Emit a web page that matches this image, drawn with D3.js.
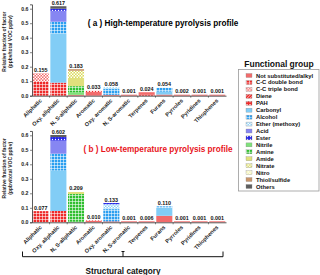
<!DOCTYPE html>
<html>
<head>
<meta charset="utf-8">
<script src="https://cdn.jsdelivr.net/npm/d3@7/dist/d3.min.js"></script>
<style>
  body { margin: 0; background: #fff; }
  text { font-family: "Liberation Sans", Arial, sans-serif; font-weight: bold; }
</style>
</head>
<body>
<div class="chart"></div>
<script>
var categories = ["Aliphatic", "Oxy. aliphatic", "N, S-aliphatic", "Aromatic", "Oxy. aromatic",
  "N, S-aromatic", "Terpenes", "Furans", "Pyrroles", "Pyridines", "Thiophenes"];

var groups = ["Not substituted/alkyl", "C-C double bond", "C-C triple bond", "Diene", "PAH",
  "Carbonyl", "Alcohol", "Ether (methoxy)", "Acid", "Ester", "Nitrile", "Amine", "Amide",
  "Nitrate", "Nitro", "Thiol/sulfide", "Others"];

var yTicks = [0, 0.1, 0.2, 0.3, 0.4, 0.5, 0.6];

// stacked segments per category, bottom to top
var highStacks = [
  [["C-C double bond", 0.098], ["C-C triple bond", 0.057]],
  [["C-C double bond", 0.09], ["Carbonyl", 0.34], ["Alcohol", 0.08], ["Acid", 0.075], ["Ester", 0.015], ["Others", 0.017]],
  [["Not substituted/alkyl", 0.006], ["Nitrile", 0.018], ["Amine", 0.042], ["Amide", 0.056], ["Nitrate", 0.05], ["Thiol/sulfide", 0.011]],
  [["Not substituted/alkyl", 0.022], ["PAH", 0.011]],
  [["Not substituted/alkyl", 0.006], ["Alcohol", 0.04], ["Ether (methoxy)", 0.012]],
  [["Not substituted/alkyl", 0.001]],
  [["C-C double bond", 0.006], ["Not substituted/alkyl", 0.018]],
  [["Not substituted/alkyl", 0.008], ["Carbonyl", 0.02], ["Alcohol", 0.026]],
  [["Not substituted/alkyl", 0.002]],
  [["Not substituted/alkyl", 0.001]],
  [["Not substituted/alkyl", 0.001]]
];
var highTotals = [0.155, 0.617, 0.183, 0.033, 0.058, 0.001, 0.024, 0.054, 0.002, 0.001, 0.001];

var lowStacks = [
  [["C-C double bond", 0.077]],
  [["C-C double bond", 0.078], ["Carbonyl", 0.28], ["Alcohol", 0.115], ["Acid", 0.09], ["Ester", 0.025], ["Others", 0.014]],
  [["Nitrile", 0.005], ["Amine", 0.19], ["Amide", 0.014]],
  [["Not substituted/alkyl", 0.006], ["PAH", 0.004]],
  [["Not substituted/alkyl", 0.006], ["Alcohol", 0.085], ["Ether (methoxy)", 0.034], ["Ester", 0.008]],
  [["Not substituted/alkyl", 0.001]],
  [["Not substituted/alkyl", 0.006]],
  [["Not substituted/alkyl", 0.045], ["Carbonyl", 0.055], ["Alcohol", 0.01]],
  [["Not substituted/alkyl", 0.001]],
  [["Not substituted/alkyl", 0.001]],
  [["Not substituted/alkyl", 0.001]]
];
var lowTotals = [0.077, 0.602, 0.209, 0.010, 0.133, 0.001, 0.006, 0.110, 0.001, 0.001, 0.001];

// fill style per functional group: base colour + overlay pattern
var groupStyle = {
  "Not substituted/alkyl": ["#f26b6b", null],
  "C-C double bond": ["#ee2a2a", "grid"],
  "C-C triple bond": ["#f36a6a", "checker"],
  "Diene": ["#ee2a2a", "diag"],
  "PAH": ["#ee2a2a", "hline"],
  "Carbonyl": ["#82cdf6", null],
  "Alcohol": ["#2b9ff0", "grid"],
  "Ether (methoxy)": ["#8fd2f7", "checker"],
  "Acid": ["#8686f2", null],
  "Ester": ["#2424e6", "dots"],
  "Nitrile": ["#7fe07a", null],
  "Amine": ["#2fbf2f", "grid"],
  "Amide": ["#e0e07c", null],
  "Nitrate": ["#dada58", "checker"],
  "Nitro": ["#f2f2a6", "checker"],
  "Thiol/sulfide": ["#c8956b", null],
  "Others": ["#5e5e5e", null]
};

var svgWidth = 320, svgHeight = 275;
var svg = d3.select(".chart").append("svg")
  .attr("width", svgWidth)
  .attr("height", svgHeight);

var defs = svg.append("defs");
function fillFor(name) {
  var st = groupStyle[name];
  if (!st[1]) return st[0];
  var id = "p" + groups.indexOf(name);
  if (defs.select("#" + id).empty()) {
    var p = defs.append("pattern").attr("id", id)
      .attr("patternUnits", "userSpaceOnUse").attr("width", 3).attr("height", 3);
    p.append("rect").attr("width", 3).attr("height", 3).attr("fill", st[0]);
    if (st[1] == "grid") {
      p.append("path").attr("d", "M0,0.3H3M0.3,0V3").attr("stroke", "#fff").attr("stroke-width", 0.7);
    } else if (st[1] == "checker") {
      p.append("rect").attr("width", 1.5).attr("height", 1.5).attr("fill", "#fff");
      p.append("rect").attr("x", 1.5).attr("y", 1.5).attr("width", 1.5).attr("height", 1.5).attr("fill", "#fff");
    } else if (st[1] == "dots") {
      p.append("circle").attr("cx", 1.5).attr("cy", 1.5).attr("r", 0.7).attr("fill", "#fff");
    } else if (st[1] == "hline") {
      p.append("path").attr("d", "M0,1.5H2").attr("stroke", "#fff").attr("stroke-width", 0.8);
    } else if (st[1] == "diag") {
      p.append("path").attr("d", "M0,3L3,0").attr("stroke", "#fff").attr("stroke-width", 0.7);
    }
  }
  return "url(#" + id + ")";
}

var x = d3.scaleBand().domain(categories).range([32, 226]).paddingInner(0.09).paddingOuter(0.04);

var panels = [
  { stacks: highStacks, totals: highTotals, base: 95.7, title: "( a ) High-temperature pyrolysis profile", color: "#000", tx: 163, ty: 26 },
  { stacks: lowStacks, totals: lowTotals, base: 222.3, title: "( b ) Low-temperature pyrolysis profile", color: "#e8141b", tx: 158, ty: 152 }
];

panels.forEach(function(panel) {
  var y = d3.scaleLinear().domain([0, 0.63]).range([panel.base, panel.base - 0.63 * 145]);
  var g = svg.append("g");

  // stacked bars
  panel.stacks.forEach(function(stack, i) {
    var acc = 0;
    stack.forEach(function(seg) {
      var y0 = y(acc), y1 = y(acc + seg[1]);
      g.append("rect")
        .attr("x", x(categories[i]))
        .attr("width", x.bandwidth())
        .attr("y", Math.min(y1, y0 - 1))
        .attr("height", Math.max(y0 - y1, 1))
        .attr("fill", fillFor(seg[0]));
      acc += seg[1];
    });
  });

  // value labels
  g.selectAll(".val").data(panel.totals).enter().append("text")
    .attr("x", function(d, i) { return x(categories[i]) + x.bandwidth() / 2; })
    .attr("y", function(d) { return Math.min(y(d), panel.base - 1) - 1.5; })
    .attr("text-anchor", "middle")
    .style("font-size", "5.4px")
    .attr("fill", "#111")
    .text(function(d) { return d3.format(".3f")(d); });

  // y axis
  var yAxis = g.append("g").attr("transform", "translate(32,0)")
    .call(d3.axisLeft(y).tickValues(yTicks).tickSize(2).tickPadding(1.5).tickFormat(d3.format(".1f")));
  yAxis.select(".domain").attr("stroke", "#333").attr("stroke-width", 0.8);
  yAxis.selectAll("text").style("font-size", "5.2px").attr("fill", "#222");
  yAxis.selectAll(".tick line").attr("stroke", "#333").attr("stroke-width", 0.6);

  // x axis with category labels
  var xAxis = g.append("g").attr("transform", "translate(0," + panel.base + ")")
    .call(d3.axisBottom(x).tickSize(0).tickSizeOuter(0));
  xAxis.select(".domain").attr("stroke", "#333").attr("stroke-width", 0.8);
  xAxis.selectAll("text")
    .attr("x", 0).attr("y", 0).attr("dy", "0.35em")
    .attr("transform", "translate(0,4) rotate(-45)")
    .style("text-anchor", "end")
    .style("font-size", "5.6px")
    .attr("fill", "#222");
  xAxis.selectAll(".bnd").data(categories.slice(0, -1)).enter().append("line")
    .attr("x1", function(d) { return x(d) + x.bandwidth() + x.step() * x.paddingInner() / 2; })
    .attr("x2", function(d) { return x(d) + x.bandwidth() + x.step() * x.paddingInner() / 2; })
    .attr("y1", 0).attr("y2", 2)
    .attr("stroke", "#333").attr("stroke-width", 0.6);

  // panel title
  g.append("text")
    .attr("x", panel.tx).attr("y", panel.ty)
    .attr("text-anchor", "middle")
    .style("font-size", "8.2px")
    .attr("fill", panel.color)
    .text(panel.title);

  // y axis title
  var yt = g.append("text")
    .attr("transform", "translate(0," + (panel.base - 54) + ") rotate(-90)")
    .attr("text-anchor", "middle")
    .style("font-size", "5px")
    .attr("fill", "#222");
  yt.append("tspan").attr("x", 0).attr("y", 6).text("Relative fraction of factor");
  yt.append("tspan").attr("x", 0).attr("y", 11.5).text("(ppbv/total VOC ppbv)");
});

// bracket and x title
svg.append("path")
  .attr("d", "M22.5,251.5V256.7H223V251.5M123,256.7V251.5M121.5,251.5H124.5")
  .attr("fill", "none").attr("stroke", "#111").attr("stroke-width", 1);
svg.append("text")
  .attr("x", 123).attr("y", 273.5)
  .attr("text-anchor", "middle")
  .style("font-size", "8.2px")
  .attr("fill", "#111")
  .text("Structural category");

// legend
svg.append("text")
  .attr("x", 279).attr("y", 67)
  .attr("text-anchor", "middle")
  .style("font-size", "8.5px")
  .attr("fill", "#111")
  .text("Functional group");
svg.append("rect")
  .attr("x", 238.5).attr("y", 69.5).attr("width", 80.5).attr("height", 121.5)
  .attr("fill", "#fff").attr("stroke", "#999").attr("stroke-width", 0.8);
var legendY = d3.scalePoint().domain(groups).range([75.5, 186.5]);
var item = svg.selectAll(".leg").data(groups).enter().append("g")
  .attr("transform", function(d) { return "translate(246," + legendY(d) + ")"; });
item.append("rect")
  .attr("x", 0).attr("y", -2).attr("width", 6).attr("height", 4)
  .attr("fill", function(d) { return fillFor(d); })
  .attr("stroke", "#888").attr("stroke-width", 0.3);
item.append("text")
  .attr("x", 10).attr("y", 0).attr("dy", "0.35em")
  .style("font-size", "5.8px")
  .attr("fill", "#111")
  .text(function(d) { return d; });
</script>
</body>
</html>
